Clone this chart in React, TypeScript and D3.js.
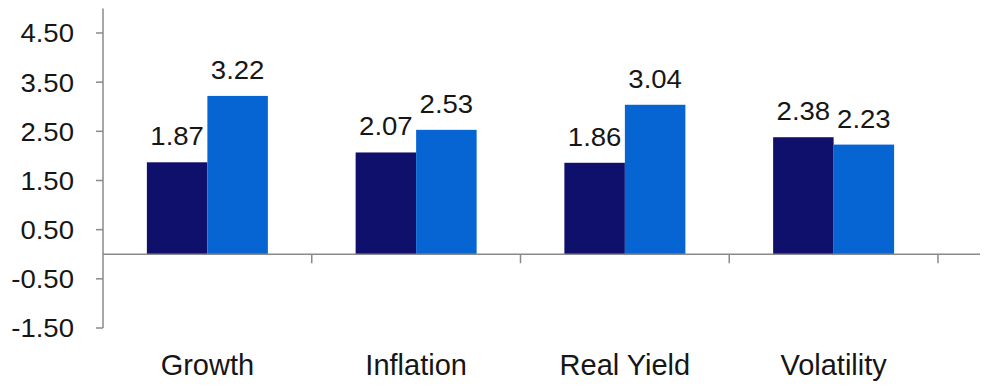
import React from 'react'
import * as d3 from 'd3'

// chart data
const categories = ['Growth', 'Inflation', 'Real Yield', 'Volatility']
const seriesA = [1.87, 2.07, 1.86, 2.38]
const seriesB = [3.22, 2.53, 3.04, 2.23]
const yTicks = [-1.5, -0.5, 0.5, 1.5, 2.5, 3.5, 4.5]

const W = 984
const H = 390

export default function App() {
  const y = d3.scaleLinear().domain([-1.5, 5]).range([328, 8.4])
  const x = d3.scaleBand().domain(categories).range([103, 938])
  const inner = d3.scaleBand().domain(['a', 'b']).range([0, 121])
  const axisX = 103
  const zero = y(0)
  const font = 'Arial, "Liberation Sans", sans-serif'
  const txt = '#161616'

  const bars = categories.flatMap((c, i) => [
    { c, key: 'a', v: seriesA[i], fill: '#0f0f6c' },
    { c, key: 'b', v: seriesB[i], fill: '#0665d3' },
  ])

  const groupLeft = (c: string) => x(c)! + x.bandwidth() / 2 - 60.5

  return (
    <svg width={W} height={H} style={{ position: 'absolute', left: 0, top: 0, background: '#fff' }}>
      {/* y axis */}
      <line x1={axisX} x2={axisX} y1={y(5)} y2={y(-1.5)} stroke="#8a8a8a" strokeWidth={1.5} />
      {yTicks.map(t => (
        <g key={t}>
          <line x1={axisX - 7} x2={axisX} y1={y(t)} y2={y(t)} stroke="#8a8a8a" strokeWidth={1.5} />
          <text transform={`translate(74,${y(t)}) scale(1.06,1)`} dy="0.36em" textAnchor="end"
            fontFamily={font} fontSize={26} fill={txt}>{t.toFixed(2)}</text>
        </g>
      ))}

      {/* bars */}
      {bars.map(b => {
        const bx = groupLeft(b.c) + inner(b.key)!
        return (
          <g key={b.c + b.key}>
            <rect x={bx} y={y(b.v)} width={inner.bandwidth()} height={zero - y(b.v)} fill={b.fill} />
            <text transform={`translate(${bx + inner.bandwidth() / 2},${y(b.v) - 17}) scale(1.06,1)`}
              textAnchor="middle" fontFamily={font} fontSize={26} fill={txt}>{b.v.toFixed(2)}</text>
          </g>
        )
      })}

      {/* x axis */}
      <line x1={axisX} x2={980} y1={zero} y2={zero} stroke="#8a8a8a" strokeWidth={1.5} />
      {categories.map(c => (
        <g key={c}>
          <line x1={x(c)! + x.bandwidth()} x2={x(c)! + x.bandwidth()} y1={zero} y2={zero + 9}
            stroke="#8a8a8a" strokeWidth={1.5} />
          <text x={x(c)! + x.bandwidth() / 2} y={375} textAnchor="middle"
            fontFamily={font} fontSize={29} fill={txt}>{c}</text>
        </g>
      ))}
    </svg>
  )
}
